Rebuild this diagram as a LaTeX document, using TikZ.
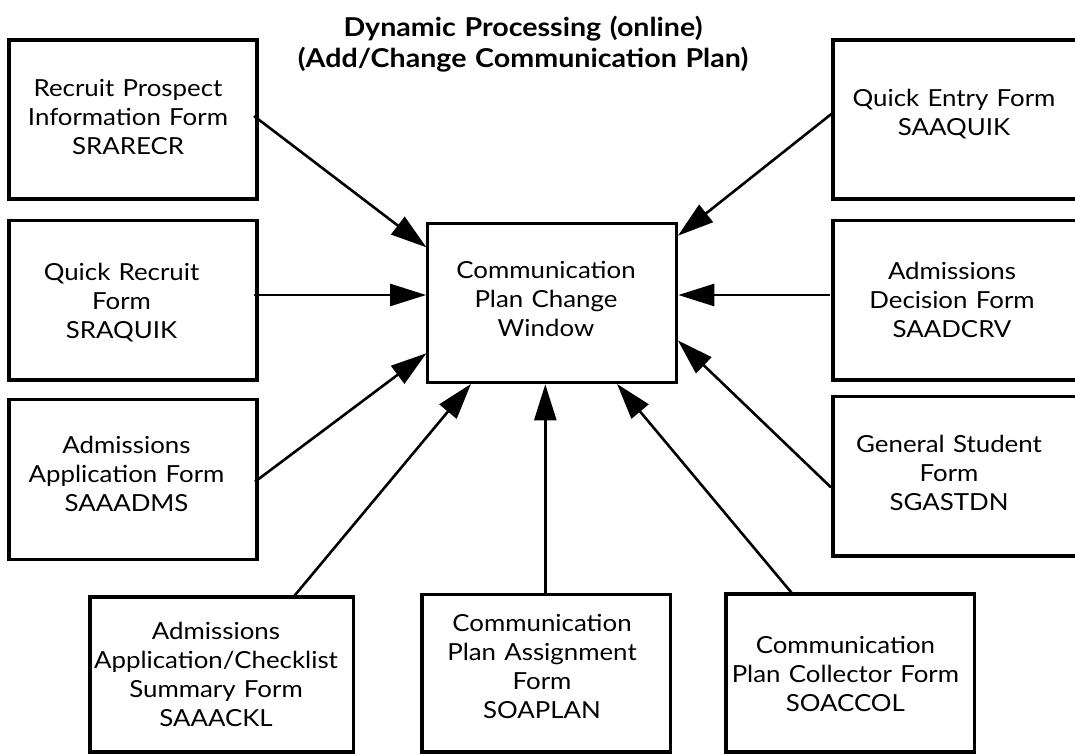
\documentclass[tikz,border=0pt]{standalone}
\usepackage{fontspec}
\setmainfont{Lato}[FakeStretch=1.1, WordSpace=1.25]
\usetikzlibrary{arrows.meta,calc}
\begin{document}
\begin{tikzpicture}[x=1pt,y=-1pt,
  form/.style={draw, line width=3.3pt, rectangle, inner sep=0pt, outer sep=0pt},
  formtext/.style={align=center, inner sep=0pt, anchor=north,
    font=\fontsize{23.5}{29}\selectfont},
  flow/.style={line width=2.6pt, -{Triangle[length=36pt,width=22pt]}, shorten >=1.6pt}]
\path[use as bounding box] (0,0) rectangle (1075,754);
\clip (0,0) rectangle (1075,754);

% title
\node[align=center, inner sep=0pt, anchor=north,
  font=\bfseries\fontsize{26}{31}\selectfont] (title) at (523,15.5)
  {Dynamic Processing (online)\\(Add/Change Communication Plan)};

% central window
\node[form, minimum width=249pt, minimum height=159.4pt] (cw) at (552.2,303) {};
\node[formtext] (cwt) at (546,261) {Communication\\Plan Change\\Window};

% left column
\node[form, minimum width=248pt, minimum height=159pt] (rp) at (133,119.5) {};
\node[formtext] (rpt) at (128,79) {Recruit Prospect\\Information Form\\SRARECR};
\node[form, minimum width=248pt, minimum height=159.3pt] (qr) at (133,300.4) {};
\node[formtext] (qrt) at (121.5,262.5) {Quick Recruit\\Form\\SRAQUIK};
\node[form, minimum width=248pt, minimum height=160pt] (aa) at (133,479.5) {};
\node[formtext] (aat) at (126.5,435.7) {Admissions\\Application Form\\SAAADMS};

% right column (runs off the right edge)
\node[form, minimum width=257pt, minimum height=159pt] (qe) at (961.5,119.5) {};
\node[formtext] (qet) at (954,89) {Quick Entry Form\\SAAQUIK};
\node[form, minimum width=257pt, minimum height=159.5pt] (ad) at (961.5,300.3) {};
\node[formtext] (adt) at (952,262.3) {Admissions\\Decision Form\\SAADCRV};
\node[form, minimum width=257pt, minimum height=159.3pt] (gs) at (961.5,476.4) {};
\node[formtext] (gst) at (949,435) {General Student\\Form\\SGASTDN};

% bottom row
\node[form, minimum width=263.3pt, minimum height=155pt] (ck) at (221.7,674.5) {};
\node[formtext] (ckt) at (216,622) {Admissions\\Application/Checklist\\Summary Form\\SAAACKL};
\node[form, minimum width=248.3pt, minimum height=157.5pt] (sp) at (546.2,673.2) {};
\node[formtext] (spt) at (542,614) {Communication\\Plan Assignment\\Form\\SOAPLAN};
\node[form, minimum width=248.7pt, minimum height=158pt] (sc) at (850.4,673) {};
\node[formtext] (sct) at (845.4,635.7) {Communication\\Plan Collector Form\\SOACCOL};

% flows into the change window
\draw[flow] ($(rp.east)+(-3,-3.5)$) -- ($(cw.north west)+(0,25)$);
\draw[flow] ($(qr.east)+(-3,-5.4)$) -- ($(cw.west)+(0,-8)$);
\draw[flow] ($(aa.east)+(-2,2.2)$) -- ($(cw.south west)+(0,-30.4)$);
\draw[flow] ($(ck.north)+(71.7,0)$) -- ($(cw.south west)+(44.3,0)$);
\draw[flow] ($(sp.north)+(-0.9,0)$) -- ($(cw.south west)+(117.6,0)$);
\draw[flow] ($(sc.north)+(-57.8,0)$) -- ($(cw.south west)+(188.3,0)$);
\draw[flow] ($(gs.west)+(-2,11)$) -- ($(cw.south east)+(0,-43.4)$);
\draw[flow] ($(ad.west)+(-3,-5.3)$) -- ($(cw.east)+(0,-8)$);
\draw[flow] ($(qe.west)+(0,-6.8)$) -- ($(cw.north east)+(0,13.4)$);
\end{tikzpicture}
\end{document}
